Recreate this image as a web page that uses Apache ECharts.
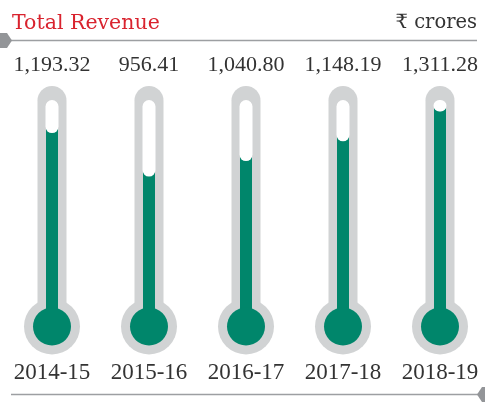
<!DOCTYPE html>
<html>
<head>
<meta charset="utf-8">
<script src="https://cdn.jsdelivr.net/npm/echarts@6/dist/echarts.min.js"></script>
<style>
html,body{margin:0;padding:0;background:#fff;}
#chart{width:485px;height:402px;}
</style>
</head>
<body>
<div id="chart"></div>
<script>
var categories = ['2014-15', '2015-16', '2016-17', '2017-18', '2018-19'];
var revenue = [1193.32, 956.41, 1040.80, 1148.19, 1311.28];
var titleText = 'Total Revenue';
var unitText = '\u20B9 crores';

var Y_MAX = 1450;
var GREY = '#d1d3d4';
var GREEN = '#00866b';
var TEXT = '#333333';

function fmt(v) {
  return v.toLocaleString('en-US', {minimumFractionDigits: 2, maximumFractionDigits: 2});
}
var valueLabels = revenue.map(fmt);

var chart = echarts.init(document.getElementById('chart'), null, {renderer: 'canvas'});

var option = {
  backgroundColor: '#ffffff',
  animation: false,
  title: [
    {
      text: titleText, left: 7, top: 8,
      textStyle: {fontFamily: 'DejaVu Serif', fontSize: 20.5, fontWeight: 'normal', color: '#d9232e'}
    },
    {
      text: unitText, right: 3, top: 8,
      textStyle: {fontFamily: 'DejaVu Serif', fontSize: 19.5, fontWeight: 'normal', color: TEXT}
    }
  ],
  grid: {left: 3.5, width: 485, top: 86, bottom: 50, outerBoundsMode: 'none'},
  xAxis: [
    {
      type: 'category', data: categories, position: 'bottom',
      axisLine: {show: false}, axisTick: {show: false}, splitLine: {show: false},
      axisLabel: {interval: 0, margin: 9, fontFamily: 'Liberation Serif', fontSize: 23, color: TEXT}
    },
    {
      type: 'category', data: valueLabels, position: 'top',
      axisLine: {show: false}, axisTick: {show: false}, splitLine: {show: false},
      axisLabel: {interval: 0, margin: 10, fontFamily: 'Liberation Serif', fontSize: 22, color: TEXT}
    }
  ],
  yAxis: {type: 'value', min: 0, max: Y_MAX, show: false},
  series: [{
    type: 'custom',
    xAxisIndex: 0,
    data: revenue.map(function (v, i) { return [i, v]; }),
    encode: {x: 0, y: 1},
    renderItem: function (params, api) {
      var i = api.value(0), v = api.value(1);
      var top = api.coord([i, Y_MAX]);
      var zero = api.coord([i, 0]);
      var val = api.coord([i, v]);
      var cx = top[0];
      var bulbY = zero[1] - 25.5;
      return {
        type: 'group',
        children: [
          {type: 'rect', shape: {x: cx - 14.5, y: top[1], width: 29, height: bulbY - top[1], r: 14.5}, style: {fill: GREY}},
          {type: 'circle', shape: {cx: cx, cy: bulbY, r: 28}, style: {fill: GREY}},
          {type: 'rect', shape: {x: cx - 6, y: val[1] - 6, width: 12, height: bulbY - val[1] + 6}, style: {fill: GREEN}},
          {type: 'circle', shape: {cx: cx, cy: bulbY, r: 19}, style: {fill: GREEN}},
          {type: 'rect', shape: {x: cx - 6.5, y: top[1] + 14, width: 13, height: val[1] - top[1] - 14, r: 6.5}, style: {fill: '#ffffff'}}
        ]
      };
    }
  }],
  graphic: [
    {type: 'line', shape: {x1: 10, y1: 40.5, x2: 477, y2: 40.5}, style: {stroke: '#9d9fa2', lineWidth: 1.5}},
    {type: 'polygon', shape: {points: [[0, 33], [7, 33], [12, 40.5], [7, 48], [0, 48]]}, style: {fill: '#939598'}},
    {type: 'line', shape: {x1: 11, y1: 394.5, x2: 478, y2: 394.5}, style: {stroke: '#9d9fa2', lineWidth: 1.5}},
    {type: 'polygon', shape: {points: [[485, 387], [482, 387], [477, 394.5], [482, 402], [485, 402]]}, style: {fill: '#939598'}}
  ]
};
chart.setOption(option);
</script>
</body>
</html>
